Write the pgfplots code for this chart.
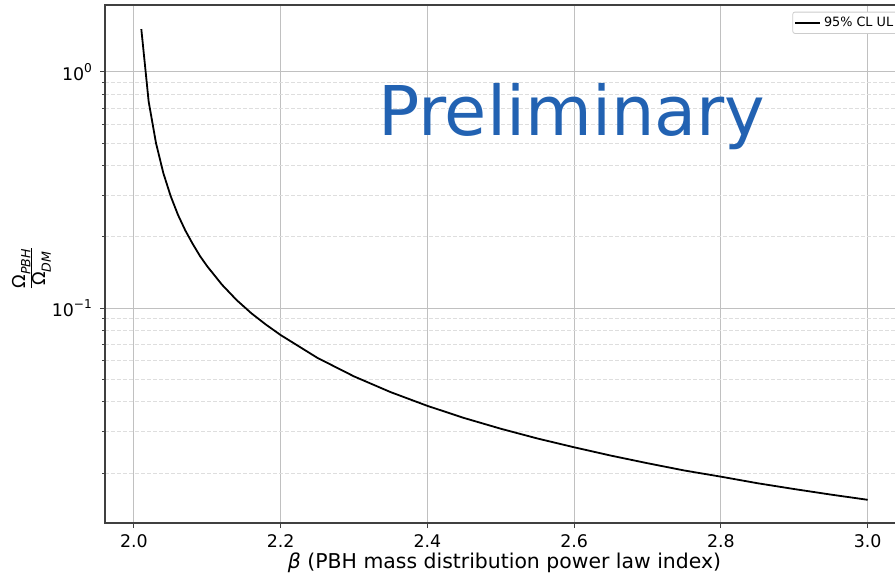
\documentclass[border=0pt]{standalone}
\usepackage{pgfplots}
\pgfplotsset{compat=1.18}
\usepackage{fontspec}
\setmainfont{DejaVu Sans}
\definecolor{prelim}{RGB}{34,98,178}
\definecolor{majgrid}{RGB}{192,192,192}
\definecolor{mingrid}{RGB}{222,222,222}
\begin{document}
\begin{tikzpicture}
\useasboundingbox (0pt,0pt) rectangle (447.5pt,-288.5pt);
\begin{axis}[
  at={(52.5pt,-261.5pt)}, anchor=south west,
  scale only axis, width=399.5pt, height=259pt,
  xmin=1.9605, xmax=3.0495,
  ymode=log, ymin=0.01228, ymax=1.922,
  xtick={2.0,2.2,2.4,2.6,2.8,3.0},
  xticklabels={2.0,2.2,2.4,2.6,2.8,3.0},
  ytick={0.1,1},
  yticklabels={10\textsuperscript{−1},10\textsuperscript{0}},
  minor ytick={0.02,0.03,0.04,0.05,0.06,0.07,0.08,0.09,0.2,0.3,0.4,0.5,0.6,0.7,0.8,0.9},
  tick pos=left,
  tick align=outside,
  major tick length=2.5pt, minor tick length=1.4pt,
  every tick/.style={black!75, line width=0.5pt},
  xmajorgrids, ymajorgrids, yminorgrids,
  major grid style={majgrid, line width=0.5pt},
  minor grid style={mingrid, dash pattern=on 2pt off 1pt, line width=0.5pt},
  axis line style={black!75, line width=0.6pt},
  ticklabel style={font=\fontsize{8.7}{10}\selectfont},
  xlabel={\textit{β} (PBH mass distribution power law index)},
  xlabel style={font=\fontsize{10.2}{12}\selectfont, at={(axis description cs:0.5,-0.0875)}, anchor=base},
  ylabel={\fontsize{8.9}{10}\selectfont$\frac{\mbox{Ω}_{\mbox{\fontsize{6.3}{7}\selectfont\itshape PBH}}}{\mbox{Ω}_{\mbox{\fontsize{6.3}{7}\selectfont\itshape DM}}}$},
  ylabel style={at={(axis description cs:-0.092,0.492)}, anchor=center},
  legend style={at={(rel axis cs:1,1)}, anchor=north east, xshift=-3pt, yshift=-3.35pt,
    font=\fontsize{6.4}{7.5}\selectfont, draw=black!20, rounded corners=1pt, fill=white,
    inner sep=0.8pt, nodes={inner sep=1.4pt}},
  legend cell align=left,
  legend image code/.code={\draw[#1] (0pt,0pt) -- (12.5pt,0pt);},
]
\addplot[black, line width=0.9pt, mark=none] coordinates {
(2.01,1.52) (2.02,0.75) (2.03,0.50) (2.04,0.373) (2.05,0.298) (2.06,0.248)
(2.07,0.213) (2.08,0.187) (2.09,0.166) (2.10,0.150) (2.12,0.1255) (2.14,0.108)
(2.16,0.0950) (2.18,0.0850) (2.20,0.0768) (2.25,0.0615) (2.30,0.0513) (2.35,0.0440)
(2.40,0.0385) (2.45,0.0342) (2.50,0.0308) (2.55,0.0280) (2.60,0.0257) (2.65,0.0237)
(2.70,0.0220) (2.75,0.0205) (2.80,0.0193) (2.85,0.0181) (2.90,0.0171) (2.95,0.0162)
(3.00,0.0154)
};
\addlegendentry{95\% CL UL}
\end{axis}
\node[anchor=base west, inner sep=0pt, text=prelim, font=\fontsize{34.3}{37}\selectfont] at (188.8pt,-68pt) {Preliminary};
\end{tikzpicture}
\end{document}
